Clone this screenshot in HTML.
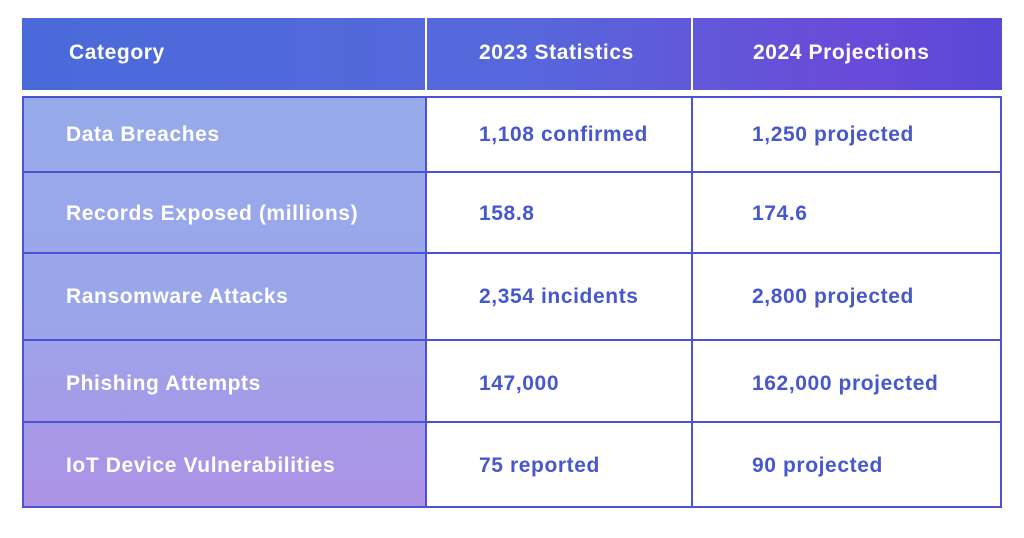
<!DOCTYPE html>
<html><head><meta charset="utf-8"><style>
*{margin:0;padding:0;box-sizing:border-box}
body{width:1024px;height:538px;background:#fff;position:relative;font-family:"Liberation Sans",sans-serif;font-weight:bold;overflow:hidden}
.hdr{position:absolute;left:22px;top:18px;width:980px;height:72px;background:linear-gradient(90deg,#4a6ad9 0%,#5668db 50%,#6a4ad8 85%,#5a48d6 100%)}
.hsep{position:absolute;top:18px;width:2px;height:72px;background:#fff}
.ht{position:absolute;color:#fff;font-size:21px;letter-spacing:0.6px;line-height:72px;top:17px}
.body{position:absolute;left:22px;top:96px;width:980px;height:412px;border:2px solid #4d52d4}
.c1{position:absolute;left:24px;top:98px;width:402px;height:408px;background:linear-gradient(180deg,#97aae9 0%,#9aa6ea 50%,#ad92e5 100%)}
.vl{position:absolute;top:96px;width:2px;height:412px;background:#4d52d4}
.hl{position:absolute;left:22px;width:980px;height:2px;background:#4d52d4}
.t{position:absolute;font-size:21px;letter-spacing:0.6px;line-height:24px}
.w{color:#fff}.b{color:#4658cc}
</style></head><body>
<div class="hdr"></div>
<div class="hsep" style="left:425px"></div>
<div class="hsep" style="left:691px"></div>
<div class="ht" style="left:69px">Category</div>
<div class="ht" style="left:479px">2023 Statistics</div>
<div class="ht" style="left:753px">2024 Projections</div>
<div class="body"></div>
<div class="c1"></div>
<div class="vl" style="left:425px"></div>
<div class="vl" style="left:691px"></div>
<div class="hl" style="top:171px"></div>
<div class="hl" style="top:252px"></div>
<div class="hl" style="top:339px"></div>
<div class="hl" style="top:421px"></div>

<div class="t w" style="left:66px;top:123px">Data Breaches</div>
<div class="t b" style="left:479px;top:123px">1,108 confirmed</div>
<div class="t b" style="left:752px;top:123px">1,250 projected</div>

<div class="t w" style="left:66px;top:202px">Records Exposed (millions)</div>
<div class="t b" style="left:479px;top:202px">158.8</div>
<div class="t b" style="left:752px;top:202px">174.6</div>

<div class="t w" style="left:66px;top:285px">Ransomware Attacks</div>
<div class="t b" style="left:479px;top:285px">2,354 incidents</div>
<div class="t b" style="left:752px;top:285px">2,800 projected</div>

<div class="t w" style="left:66px;top:372px">Phishing Attempts</div>
<div class="t b" style="left:479px;top:372px">147,000</div>
<div class="t b" style="left:752px;top:372px">162,000 projected</div>

<div class="t w" style="left:66px;top:454px">IoT Device Vulnerabilities</div>
<div class="t b" style="left:479px;top:454px">75 reported</div>
<div class="t b" style="left:752px;top:454px">90 projected</div>
</body></html>
